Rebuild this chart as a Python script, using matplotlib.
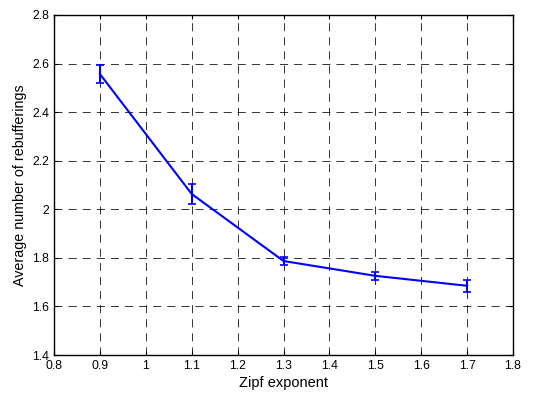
import numpy as np
import matplotlib
matplotlib.use("Agg")
import matplotlib.pyplot as plt

plt.rcParams['font.family'] = ['Liberation Sans', 'DejaVu Sans']

# data
zipf = [0.9, 1.1, 1.3, 1.5, 1.7]
rebuf_mean = [2.557, 2.063, 1.787, 1.726, 1.685]
rebuf_err = [0.037, 0.041, 0.018, 0.017, 0.025]

fig = plt.figure(figsize=(5.39, 4.01), dpi=100)
ax = fig.add_axes([0.1002, 0.1147, 0.8516, 0.8479])

ax.errorbar(zipf, rebuf_mean, yerr=rebuf_err, color='blue', lw=1.5,
            elinewidth=1.5, capsize=2.6, capthick=1.2)

ax.set_xlim(0.8, 1.8)
ax.set_ylim(1.4, 2.8)
ax.set_xticks(np.arange(0.8, 1.81, 0.1))
ax.set_xticklabels(['0.8', '0.9', '1', '1.1', '1.2', '1.3', '1.4', '1.5', '1.6', '1.7', '1.8'])
ax.set_yticks(np.arange(1.4, 2.81, 0.2))
ax.set_yticklabels(['1.4', '1.6', '1.8', '2', '2.2', '2.4', '2.6', '2.8'])
ax.tick_params(direction='in', labelsize=8.8, length=3, top=True, right=True)
ax.grid(True, color='black', linestyle=(0, (8.3, 6.2)), linewidth=0.7, alpha=0.8)
for s in ax.spines.values():
    s.set_linewidth(1.0)

ax.set_xlabel('Zipf exponent', fontsize=10.5, labelpad=3)
ax.set_ylabel('Average number of rebufferings', fontsize=10.3, labelpad=4)

fig.savefig('out.png', dpi=100)
